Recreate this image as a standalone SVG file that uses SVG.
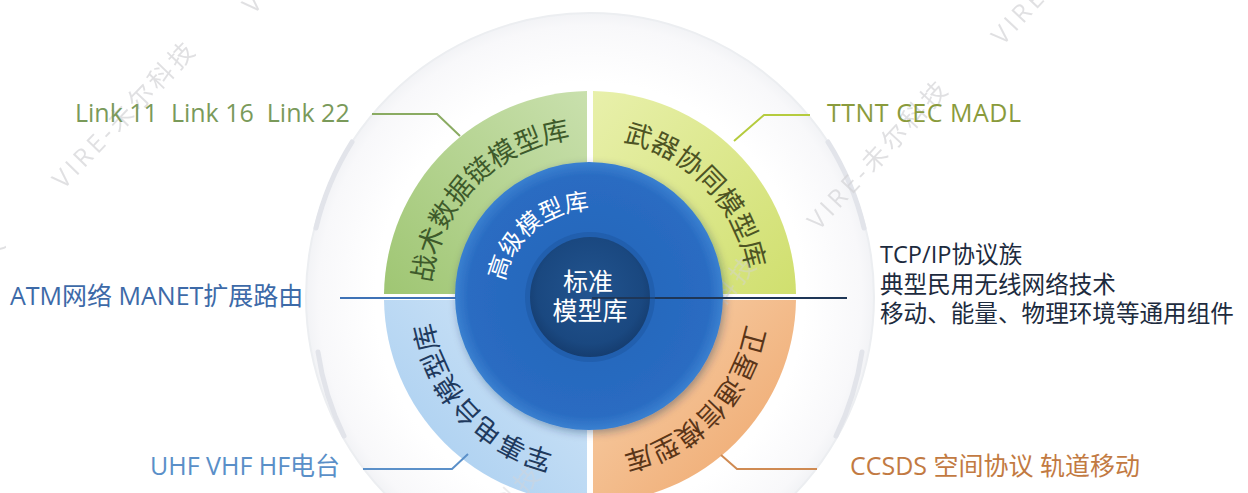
<svg xmlns="http://www.w3.org/2000/svg" width="1248" height="493" viewBox="0 0 1248 493">
<defs>
<style>
.lbl{font-family:"Open Sans","Noto Sans CJK SC",sans-serif;font-size:25px}
.arc{font-family:"Noto Sans CJK SC",sans-serif;font-size:27px}
.wm{font-family:"Open Sans","Noto Sans CJK SC",sans-serif;font-size:25px;fill:#d4d4d7;letter-spacing:4px;opacity:0.7}
.con{fill:none;stroke-width:2}
</style>
<radialGradient id="gBg" cx="590" cy="297" r="286" gradientUnits="userSpaceOnUse">
<stop offset="0.75" stop-color="#ffffff"/>
<stop offset="0.95" stop-color="#f8f8fa"/>
<stop offset="1" stop-color="#f1f2f5"/>
</radialGradient>
<linearGradient id="gGreen" x1="1" y1="0" x2="0" y2="1">
<stop offset="0" stop-color="#c9e0ad"/>
<stop offset="1" stop-color="#9fc673"/>
</linearGradient>
<linearGradient id="gYellow" x1="0" y1="0" x2="1" y2="1">
<stop offset="0" stop-color="#e8f0ab"/>
<stop offset="1" stop-color="#d0df6e"/>
</linearGradient>
<linearGradient id="gOrange" x1="0" y1="0" x2="1" y2="1">
<stop offset="0" stop-color="#f8d3ae"/>
<stop offset="1" stop-color="#eea468"/>
</linearGradient>
<linearGradient id="gLblue" x1="1" y1="0" x2="0" y2="1">
<stop offset="0" stop-color="#d4e7f8"/>
<stop offset="1" stop-color="#a3cbef"/>
</linearGradient>
<radialGradient id="gMid" cx="0.5" cy="0.5" r="0.5">
<stop offset="0" stop-color="#2265b8"/>
<stop offset="0.9" stop-color="#2a6cc2"/>
<stop offset="1" stop-color="#3a80d0"/>
</radialGradient>
<radialGradient id="gCore" cx="0.5" cy="0.45" r="0.55">
<stop offset="0" stop-color="#22548f"/>
<stop offset="0.8" stop-color="#1a4880"/>
<stop offset="1" stop-color="#153d70"/>
</radialGradient>
<filter id="shadow" x="-20%" y="-20%" width="140%" height="140%">
<feDropShadow dx="2" dy="3" stdDeviation="4" flood-color="#0a2a55" flood-opacity="0.35"/>
</filter>
<path id="pGreen" d="M461.4,390.5 A159,159 0 0 1 678.9,165.2"/>
<path id="pYellow" d="M501.1,165.2 A159,159 0 0 1 718.6,390.5"/>
<path id="pOrange" d="M718.6,203.5 A159,159 0 0 1 501.1,428.8"/>
<path id="pLblue" d="M676.6,430.4 A159,159 0 0 1 463.0,201.3"/>
<path id="pInner" d="M514.7,340.5 A87,87 0 0 1 645.9,230.4"/>
</defs>

<rect width="1248" height="493" fill="#ffffff"/>

<g id="outer-ring">
<circle cx="590" cy="297" r="284" fill="url(#gBg)" stroke="#eceef1" stroke-width="2"/>
<g fill="none" stroke="#e2e4ea" stroke-width="5" stroke-linecap="round">
<path d="M828,142 A284,284 0 0 1 864,228"/>
<path d="M862,352 A284,284 0 0 1 836,436"/>
<path d="M352,142 A284,284 0 0 0 316,228"/>
<path d="M318,352 A284,284 0 0 0 344,436"/>
</g>
</g>

<g id="watermarks">
<text class="wm" text-anchor="middle" transform="translate(131,120) rotate(-46)">VIRE-未尔科技</text>
<text class="wm" text-anchor="middle" transform="translate(321,-55) rotate(-46)">VIRE-未尔科技</text>
<text class="wm" text-anchor="middle" transform="translate(-59,312) rotate(-46)">VIRE-未尔科技</text>
<text class="wm" text-anchor="middle" transform="translate(885,160) rotate(-47)">VIRE-未尔科技</text>
<text class="wm" text-anchor="middle" transform="translate(1069,-25) rotate(-47)">VIRE-未尔科技</text>
</g>

<g id="q-tactical-datalink">
<path d="M587,294 L587,91 A206,206 0 0 0 384,294 Z" fill="url(#gGreen)"/>
<text class="arc" fill="#3e5a2b" text-anchor="middle"><textPath href="#pGreen" startOffset="50%">战术数据链模型库</textPath></text>
</g>
<g id="q-weapon-coop">
<path d="M593,294 L593,91 A206,206 0 0 1 796,294 Z" fill="url(#gYellow)"/>
<text class="arc" fill="#4d5424" text-anchor="middle"><textPath href="#pYellow" startOffset="50%">武器协同模型库</textPath></text>
</g>
<g id="q-satcom">
<path d="M593,300 L796,300 A206,206 0 0 1 593,503 Z" fill="url(#gOrange)"/>
<text class="arc" fill="#5a3518" text-anchor="middle"><textPath href="#pOrange" startOffset="50%">卫星通信模型库</textPath></text>
</g>
<g id="q-military-radio">
<path d="M587,300 L587,503 A206,206 0 0 1 384,300 Z" fill="url(#gLblue)"/>
<text class="arc" fill="#1f3a5e" text-anchor="middle"><textPath href="#pLblue" startOffset="50%">军事电台模型库</textPath></text>
</g>

<g id="wm-front">
<text class="wm" text-anchor="middle" transform="translate(697,338) rotate(-50)" style="opacity:0.45">VIRE-未尔科技</text>
<text class="wm" text-anchor="middle" transform="translate(478,545) rotate(-47)" style="opacity:0.45">VIRE-未尔科技</text>
</g>

<g id="advanced-lib">
<circle cx="589" cy="296" r="134" fill="url(#gMid)" filter="url(#shadow)"/>
<text font-family="Noto Sans CJK SC, sans-serif" font-size="24" fill="#ffffff" text-anchor="middle"><textPath href="#pInner" startOffset="50%">高级模型库</textPath></text>
</g>

<g id="connectors">
<path class="con" stroke="#8aab62" d="M372,114 H437 L460,136"/>
<path class="con" stroke="#b5cb3e" d="M734,141 L764,115 H810"/>
<path class="con" stroke="#3e72b6" d="M340,298 H456"/>
<path class="con" stroke="#1e3657" d="M650,298 H847"/>
<path class="con" stroke="#5b90c9" d="M363,469 H452 L468,454"/>
<path class="con" stroke="#cf8a52" d="M721,455 L737,469 H817"/>
</g>

<g id="standard-lib">
<circle cx="590" cy="297" r="65" fill="#1b55a0" opacity="0.5"/>
<circle cx="590" cy="297" r="60" fill="url(#gCore)"/>
<path d="M650,298 H592" stroke="#1e3657" stroke-width="2"/>
<text font-family="Noto Sans CJK SC, sans-serif" font-size="25" fill="#ffffff" text-anchor="middle"><tspan x="588" y="291">标准</tspan><tspan x="590" y="320">模型库</tspan></text>
</g>

<g id="lbl-link"><text class="lbl" fill="#7a9a5a" x="75" y="122" xml:space="preserve">Link 11  Link 16  Link 22</text></g>
<g id="lbl-ttnt"><text class="lbl" fill="#8a9b3c" x="827" y="122" letter-spacing="0.5">TTNT CEC MADL</text></g>
<g id="lbl-atm"><text class="lbl" fill="#3d6aa8" x="10" y="305">ATM网络 MANET扩展路由</text></g>
<g id="lbl-tcp"><text class="lbl" fill="#1d2b3e" style="font-size:23.6px"><tspan x="880" y="263">TCP/IP协议族</tspan><tspan x="880" y="293">典型民用无线网络技术</tspan><tspan x="880" y="322">移动、能量、物理环境等通用组件</tspan></text></g>
<g id="lbl-uhf"><text class="lbl" fill="#5a8fc8" x="150" y="475">UHF VHF HF电台</text></g>
<g id="lbl-ccsds"><text class="lbl" fill="#c27a42" x="850" y="475">CCSDS 空间协议 轨道移动</text></g>
</svg>
